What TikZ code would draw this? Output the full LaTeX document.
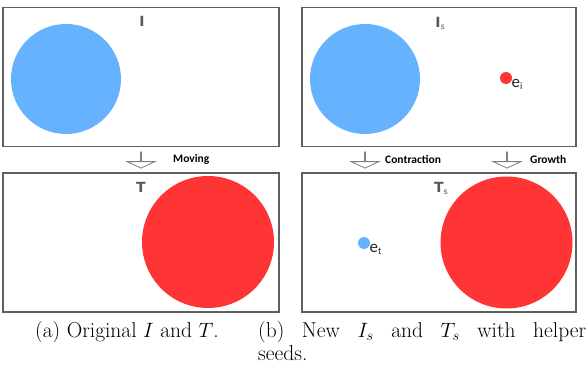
\documentclass[tikz,border=0pt]{standalone}
\usepackage{fontspec}
\usepackage{tikz}
\usetikzlibrary{shapes.arrows,positioning}
\newfontfamily\lblfont{Carlito}
\newfontfamily\tagfont{DejaVu Sans}
\definecolor{blobblue}{HTML}{66B2FF}
\definecolor{blobred}{HTML}{FF3535}
\definecolor{framegray}{HTML}{606060}
\definecolor{taggray}{HTML}{585858}
\tikzstyle{panel} = [rectangle, draw=framegray, line width=1.4pt, inner sep=0pt,
    minimum width=276pt, minimum height=139pt]
\tikzstyle{blob} = [circle, inner sep=0pt, draw=none]
\tikzstyle{seed} = [circle, inner sep=0pt, minimum size=12pt, draw=none]
\tikzstyle{tag} = [font=\tagfont\bfseries\fontsize{14}{14}\selectfont, text=taggray, inner sep=0pt]
\tikzstyle{seedlbl} = [font=\lblfont\fontsize{17}{17}\selectfont, text=black!85, inner sep=0pt]
\tikzstyle{hollow} = [single arrow, shape border rotate=270, draw=framegray!80, fill=white,
    line width=0.8pt, inner xsep=0pt, inner ysep=6.5pt, minimum height=16pt,
    single arrow head extend=13.5pt, single arrow tip angle=130]
\tikzstyle{steplbl} = [font=\lblfont\bfseries\fontsize{11.5}{12}\selectfont, inner sep=0pt, anchor=west]
\tikzstyle{caption} = [font=\fontsize{21.5}{23.5}\selectfont, inner sep=0pt, anchor=north west]

\begin{document}
\begin{tikzpicture}[x=1pt, y=-1pt]
\useasboundingbox (0,0) rectangle (588,371);
% (a) original I and T
\node[panel] (imgA) at (141,77) {};
\node[panel] (tgtA) at (141,242.5) {};
\node[blob, fill=blobblue, minimum size=110pt] (blueA) at (66,79) {};
\node[blob, fill=blobred, minimum size=132pt] (redA) at (208,242) {};
\node[tag] (tagI) at (142,21) {I};
\node[tag] (tagT) at (141,187) {T};
\node[hollow] (mv) at (141,160) {};
\node[steplbl] (mvlbl) at (173,159) {Moving};

% (b) new Is and Ts with helper seeds
\node[panel, minimum width=274pt] (imgB) at (439,77) {};
\node[panel, minimum width=274pt] (tgtB) at (439,242.5) {};
\node[blob, fill=blobblue, minimum size=110pt] (blueB) at (365,79) {};
\node[blob, fill=blobred, minimum size=132pt] (redB) at (506.5,242.5) {};
\node[seed, fill=blobred] (ei) at (506,78) {};
\node[seed, fill=blobblue] (et) at (364,243) {};
\node[seedlbl, below right=-3pt and 1pt of ei] (eilbl) {e\raisebox{-2pt}{\fontsize{10}{10}\selectfont i}};
\node[seedlbl, below right=-3pt and 1pt of et] (etlbl) {e\raisebox{-2pt}{\fontsize{10}{10}\selectfont t}};
\node[tag] (tagIs) at (440,23) {I\raisebox{-2pt}{\fontsize{8}{8}\selectfont\mdseries s}};
\node[tag] (tagTs) at (441,188) {T\raisebox{-2pt}{\fontsize{8}{8}\selectfont\mdseries s}};
\node[hollow] (ct) at (365,160) {};
\node[steplbl] (ctlbl) at (385,160) {Contraction};
\node[hollow] (gr) at (507,160) {};
\node[steplbl] (grlbl) at (530,160) {Growth};

% captions
\node[caption] (capA) at (35,321) {(a) Original $I$ and $T$.};
\node[caption, text width=328pt, align=justify] (capB) at (258,321)
    {(b) New $I_s$ and $T_s$ with helper\linebreak seeds.};
\end{tikzpicture}
\end{document}
